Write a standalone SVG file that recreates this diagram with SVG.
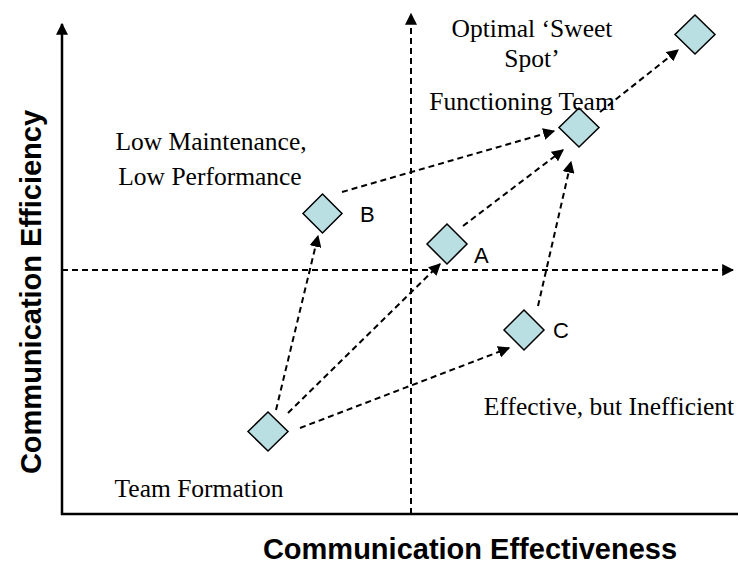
<svg xmlns="http://www.w3.org/2000/svg" width="740" height="564" viewBox="0 0 740 564">
<style>
.ax{stroke:#000;stroke-width:2.5;fill:none}
.dash{stroke:#000;stroke-width:2;stroke-dasharray:6,4;fill:none}
.dm{fill:#b9dfe3;stroke:#000;stroke-width:1.5}
.serif{font-family:"Liberation Serif",serif;font-size:25.5px;fill:#000}
.sans{font-family:"Liberation Sans",Arial,sans-serif;font-size:22px;fill:#000}
.bold{font-family:"Liberation Sans",Arial,sans-serif;font-size:29px;font-weight:bold;fill:#000}
</style>
<defs>
<marker id="ah2" viewBox="0 0 10 10" refX="9" refY="5" markerWidth="12" markerHeight="12" markerUnits="userSpaceOnUse" orient="auto">
<path d="M0,0 L10,5 L0,10 z" fill="#000"/>
</marker>
</defs>
<g id="axes">
<line class="ax" x1="62" y1="515" x2="62" y2="24" marker-end="url(#ah2)"/>
<line class="ax" x1="61" y1="514" x2="738" y2="514"/>
<line class="dash" x1="411" y1="514" x2="411" y2="14" marker-end="url(#ah2)"/>
<line class="dash" x1="62" y1="270" x2="733" y2="270" marker-end="url(#ah2)"/>
</g>
<g id="connectors">
<line class="dash" x1="276" y1="410" x2="318" y2="236" marker-end="url(#ah2)"/>
<line class="dash" x1="288" y1="413" x2="440" y2="264" marker-end="url(#ah2)"/>
<line class="dash" x1="300" y1="428" x2="509" y2="348" marker-end="url(#ah2)"/>
<line class="dash" x1="342" y1="192" x2="554" y2="131" marker-end="url(#ah2)"/>
<line class="dash" x1="463" y1="226" x2="563" y2="150" marker-end="url(#ah2)"/>
<line class="dash" x1="538" y1="306" x2="571" y2="162" marker-end="url(#ah2)"/>
<line class="dash" x1="600" y1="112" x2="678" y2="50" marker-end="url(#ah2)"/>
</g>
<g id="team-formation">
<path class="dm" d="M268,412 L288,431.5 L268,451 L248,431.5 z"/>
<text class="serif" x="199" y="497" text-anchor="middle">Team Formation</text>
</g>
<g id="node-b">
<path class="dm" d="M322.5,194 L342,213.5 L322.5,233 L303,213.5 z"/>
<text class="sans" x="360" y="222">B</text>
<text class="serif" x="211" y="150" text-anchor="middle">Low Maintenance,</text>
<text class="serif" x="210" y="185" text-anchor="middle">Low Performance</text>
</g>
<g id="node-a">
<path class="dm" d="M447,224 L467,244 L447,264 L427,244 z"/>
<text class="sans" x="474" y="263">A</text>
</g>
<g id="node-c">
<path class="dm" d="M524,310 L544,330 L524,350 L504,330 z"/>
<text class="sans" x="553" y="338">C</text>
<text class="serif" x="609" y="415" text-anchor="middle">Effective, but Inefficient</text>
</g>
<g id="functioning-team">
<path class="dm" d="M579,108 L599,127.5 L579,147 L559,127.5 z"/>
<text class="serif" x="522" y="110" text-anchor="middle">Functioning Team</text>
</g>
<g id="optimal">
<path class="dm" d="M695,15 L715,34.5 L695,54 L675,34.5 z"/>
<text class="serif" x="532" y="37" text-anchor="middle">Optimal ‘Sweet</text>
<text class="serif" x="532" y="67" text-anchor="middle">Spot’</text>
</g>
<g id="labels">
<text class="bold" x="470" y="559" text-anchor="middle">Communication Effectiveness</text>
<text class="bold" transform="translate(41,292) rotate(-90)" text-anchor="middle">Communication Efficiency</text>
</g>
</svg>
